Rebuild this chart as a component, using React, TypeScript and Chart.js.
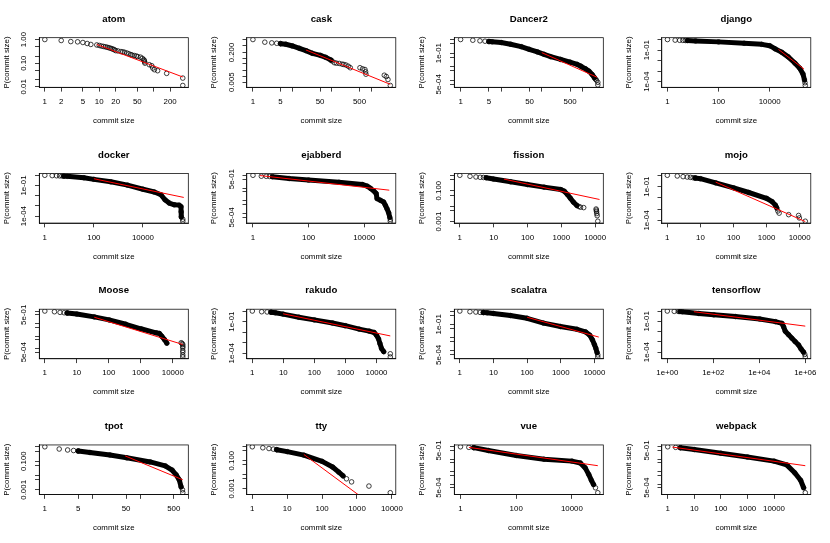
import React, { useEffect, useRef } from "react";
import { Chart, registerables } from "chart.js";
Chart.register(...registerables);

const W = 830;
const H = 543;
const COL_W = 207.5;
const ROW_H = 135.75;
const BOX_L = 39.3;
const BOX_R = 188.3;
const BOX_T = 37.7;
const BOX_B = 87.3;
const FONT = '"Liberation Sans", Arial, Helvetica, sans-serif';

// ---------- data (commit size, P(commit size)) ----------
const atomSize = [1,2,3,4,5,6,7,9,10,11,12,13,14,15,16,17,18,19,20,22,25,27,29,32,35,38,40,44,48,51,57,62,66,67,68,69,83,92,96,103,118,173,342,342];
const atomProb = [1.0,0.91,0.82,0.8,0.75,0.68,0.62,0.59,0.56,0.53,0.51,0.49,0.47,0.45,0.43,0.41,0.39,0.37,0.34,0.33,0.31,0.3,0.29,0.27,0.25,0.23,0.22,0.21,0.2,0.19,0.18,0.16,0.14,0.128,0.113,0.1,0.086,0.078,0.062,0.053,0.048,0.037,0.0234,0.0114];
const atomBandSize: number[] = [];
const atomBandProb: number[] = [];
const atomFitSize = [9, 342];
const atomFitProb = [0.62, 0.026];

const caskSize = [1,2,3,4,5,100,115,130,153,180,200,226,260,291,512,597,684,710,725,2113,2375,2617,3000];
const caskProb = [1,0.72,0.66,0.63,0.6,0.07,0.056,0.053,0.051,0.047,0.045,0.042,0.036,0.03,0.03,0.026,0.024,0.018,0.0134,0.0118,0.01,0.0069,0.0033];
const caskBandSize = [5,6.8,10,15,22,32,51,70,94];
const caskBandProb = [0.6,0.556,0.45,0.337,0.251,0.18,0.14,0.109,0.078];
const caskFitSize = [22, 3000];
const caskFitProb = [0.273, 0.0038];

const dancerSize = [1,2,3,4,5,2100,2223,2400,2400];
const dancerProb = [1,0.89,0.8,0.75,0.71,0.0012,0.001,0.0007,0.00045];
const dancerBandSize = [5,6,10,17,31,49,78,114,166,292,494,747,902,990,1196,1443,1740,1985];
const dancerBandProb = [0.71,0.68,0.6,0.45,0.3,0.19,0.121,0.081,0.054,0.034,0.0217,0.0146,0.011,0.0092,0.0069,0.0047,0.0026,0.0015];
const dancerFitSize = [100, 2300];
const dancerFitProb = [0.108, 0.00166];

const djangoSize = [1,2,3,4,5,240000,247000];
const djangoProb = [1,0.88,0.85,0.83,0.81,8e-5,4.4e-5];
const djangoBandSize = [6,12.6,100,1000,4900,10000,16000,29000,53000,96000,150000,200000,230000];
const djangoBandProb = [0.8,0.74,0.6,0.44,0.35,0.26,0.135,0.064,0.0226,0.0059,0.0019,0.00055,0.000145];
const djangoFitSize = [22000, 220000];
const djangoFitProb = [0.116, 0.00155];

const dockerSize = [1,2,3,4,5,6,420000,420000];
const dockerProb = [1,0.93,0.9,0.88,0.86,0.84,5e-5,3.2e-5];
const dockerBandSize = [6,8.2,39,100,490,2350,10000,29000,54000,79000,118000,190000,300000,355000,360000,365000];
const dockerBandProb = [0.84,0.79,0.58,0.4,0.23,0.108,0.043,0.023,0.0126,0.004,0.0019,0.0013,0.0012,0.00085,0.00027,0.000085];
const dockerFitSize = [100, 460000];
const dockerFitProb = [0.46, 0.0068];

const ejabSize = [1,2,3,4,87000,87000];
const ejabProb = [1,0.85,0.83,0.81,0.00035,0.00025];
const ejabBandSize = [5,20,100,1240,8500,12800,17000,22000,27000,29000,38000,50000,58000,66000,76000,83000];
const ejabBandProb = [0.78,0.56,0.42,0.28,0.19,0.14,0.093,0.06,0.037,0.0148,0.011,0.008,0.0044,0.0024,0.00114,0.00051];
const ejabFitSize = [1.8, 80000];
const ejabFitProb = [0.95, 0.068];

const fissionSize = [1,2,3,4,5,3300,3700,4600,10700,10900,11000,11200,11500,12000];
const fissionProb = [1,0.86,0.78,0.74,0.72,0.0095,0.0085,0.008,0.0065,0.0055,0.0044,0.0033,0.0024,0.00105];
const fissionBandSize = [6,10,32,100,310,970,1230,1540,1850,2300,2900];
const fissionBandProb = [0.7,0.57,0.38,0.25,0.17,0.118,0.092,0.055,0.033,0.018,0.011];
const fissionFitSize = [20, 13500];
const fissionFitProb = [0.57, 0.027];

const mojoSize = [1,2,3,4,5,6,7,2200,2400,4650,9300,9800,14800];
const mojoProb = [1,0.87,0.76,0.7,0.66,0.61,0.57,0.0007,0.00045,0.00033,0.00028,0.00017,0.000087];
const mojoBandSize = [7,10,29,102,290,990,1470,1850,2030];
const mojoBandProb = [0.57,0.5,0.215,0.076,0.03,0.0093,0.0047,0.0023,0.0013];
const mojoFitSize = [29, 14800];
const mojoFitProb = [0.25, 0.000081];

const mooseSize = [1,2,3,4,5,18300,19500,20500,20500,20500,20500,20500,20500,20500];
const mooseProb = [1,0.88,0.78,0.73,0.7,0.0029,0.0025,0.0021,0.0015,0.00114,0.0007,0.0005,0.0003,0.00021];
const mooseBandSize = [5,10,35,102,340,1000,3000,3800,4500,5500,6500];
const mooseBandProb = [0.7,0.57,0.34,0.195,0.087,0.038,0.018,0.016,0.0096,0.0051,0.0027];
const mooseFitSize = [35, 20500];
const mooseFitProb = [0.32, 0.0021];

const rakudoSize = [1,2,3,4,27700,27700];
const rakudoProb = [1,0.86,0.82,0.78,0.00009,0.000045];
const rakudoBandSize = [4,5.5,9.8,31.5,99,380,990,2770,5800,8400,10000,11600,12800,14500,17000];
const rakudoBandProb = [0.78,0.69,0.51,0.26,0.145,0.074,0.041,0.0195,0.0126,0.0093,0.0051,0.0023,0.00087,0.00028,0.000145];
const rakudoFitSize = [9.8, 27700];
const rakudoFitProb = [0.55, 0.0044];

const scalatraSize = [1,2,3,4,5,12600,12600];
const scalatraProb = [1,0.89,0.84,0.79,0.78,0.0005,0.00035];
const scalatraBandSize = [5,6.5,10,32,100,310,980,3050,5400,7300,8700,10000,11000,12000];
const scalatraBandProb = [0.77,0.74,0.66,0.46,0.285,0.123,0.068,0.042,0.0275,0.015,0.0069,0.003,0.0016,0.00076];
const scalatraFitSize = [100, 13500];
const scalatraFitProb = [0.34, 0.011];

const tfSize = [1,2,3,950000,1000000];
const tfProb = [1,0.93,0.92,0.00006,0.000034];
const tfBandSize = [3.5,4.5,23.6,105,920,10400,50000,97000,114000,135000,188000,260000,360000,510000,660000,840000];
const tfBandProb = [0.9,0.86,0.58,0.43,0.29,0.17,0.093,0.063,0.029,0.0108,0.005,0.0023,0.00108,0.0005,0.0002,0.0001];
const tfFitSize = [14.3, 1000000];
const tfFitProb = [0.86, 0.034];

const tpotSize = [1,2,3,4,5,760,770];
const tpotProb = [1,0.7,0.6,0.55,0.51,0.001,0.00063];
const tpotBandSize = [5,8.8,23,52,160,330,460,560,650,710];
const tpotBandProb = [0.51,0.4,0.27,0.17,0.088,0.047,0.024,0.011,0.005,0.0016];
const tpotFitSize = [48, 770];
const tpotFitProb = [0.23, 0.005];

const ttySize = [1,2,3,4,5,500,700,2200,9000];
const ttyProb = [1,0.85,0.75,0.68,0.62,0.005,0.003,0.0015,0.0005];
const ttyBandSize = [5,10,30,100,200,300,400];
const ttyBandProb = [0.62,0.45,0.25,0.09,0.035,0.015,0.008];
const ttyFitSize = [30, 1200];
const ttyFitProb = [0.28, 0.0003];

const vueSize = [1,2,3,70000,85000];
const vueProb = [1,0.9,0.85,0.0005,0.0002];
const vueBandSize = [3,10,100,1000,10000,20000,30000,40000,50000,60000];
const vueBandProb = [0.85,0.5,0.2,0.1,0.07,0.05,0.02,0.006,0.002,0.0009];
const vueFitSize = [2, 85000];
const vueFitProb = [0.9, 0.03];

const webpackSize = [1,2,3,150000];
const webpackProb = [1,0.9,0.85,0.0002];
const webpackBandSize = [3,10,100,1000,10000,30000,60000,100000,130000];
const webpackBandProb = [0.85,0.6,0.3,0.15,0.07,0.035,0.008,0.002,0.0005];
const webpackFitSize = [1.5, 150000];
const webpackFitProb = [0.95, 0.03];

// ---------- tick values and labels ----------
const ticks125 = [1,2,5,10,20,50,100,200];
const atomXLabels = ["1","2","5","10","20","50","","200"];
const ticks15 = [1,5,10,50,100,500,1000];
const ticks15Labels = ["1","5","","50","","500",""];
const ticksEven = [1,100,10000];
const ticksEvenLabels = ["1","100","10000"];
const ticksDec = [1,10,100,1000,10000];
const ticksDecLabels = ["1","10","100","1000","10000"];
const tfXTicks = [1,100,10000,1000000];
const tfXLabels = ["1e+00","1e+02","1e+04","1e+06"];

const atomYTicks = [0.01,0.02,0.05,0.1,0.2,0.5,1];
const atomYLabels = ["0.01","","","0.10","","","1.00"];
const caskYTicks = [0.005,0.01,0.02,0.05,0.1,0.2,0.5,1];
const caskYLabels = ["0.005","","","","","0.200","",""];
const sciYTicks15 = [5e-4,1e-3,5e-3,1e-2,5e-2,0.1,0.5,1];
const sciY1Labels = ["5e-04","","","","","1e-01","",""];
const sciY5Labels = ["5e-04","","","","","","5e-01",""];
const decYTicks = [1e-4,1e-3,1e-2,1e-1,1];
const decYLabels = ["1e-04","","","1e-01",""];
const fixYTicks = [0.001,0.005,0.01,0.05,0.1,0.5,1];
const fixYLabels = ["0.001","","","","0.100","",""];

type PanelDef = {
  title: string;
  size: number[]; prob: number[];
  bandSize: number[]; bandProb: number[];
  fitSize: number[]; fitProb: number[];
  xTicks: number[]; xLabels: string[];
  yTicks: number[]; yLabels: string[];
};

const panels: PanelDef[] = [
  { title: "atom", size: atomSize, prob: atomProb, bandSize: atomBandSize, bandProb: atomBandProb, fitSize: atomFitSize, fitProb: atomFitProb, xTicks: ticks125, xLabels: atomXLabels, yTicks: atomYTicks, yLabels: atomYLabels },
  { title: "cask", size: caskSize, prob: caskProb, bandSize: caskBandSize, bandProb: caskBandProb, fitSize: caskFitSize, fitProb: caskFitProb, xTicks: ticks15, xLabels: ticks15Labels, yTicks: caskYTicks, yLabels: caskYLabels },
  { title: "Dancer2", size: dancerSize, prob: dancerProb, bandSize: dancerBandSize, bandProb: dancerBandProb, fitSize: dancerFitSize, fitProb: dancerFitProb, xTicks: ticks15, xLabels: ticks15Labels, yTicks: sciYTicks15, yLabels: sciY1Labels },
  { title: "django", size: djangoSize, prob: djangoProb, bandSize: djangoBandSize, bandProb: djangoBandProb, fitSize: djangoFitSize, fitProb: djangoFitProb, xTicks: ticksEven, xLabels: ticksEvenLabels, yTicks: decYTicks, yLabels: decYLabels },
  { title: "docker", size: dockerSize, prob: dockerProb, bandSize: dockerBandSize, bandProb: dockerBandProb, fitSize: dockerFitSize, fitProb: dockerFitProb, xTicks: ticksEven, xLabels: ticksEvenLabels, yTicks: decYTicks, yLabels: decYLabels },
  { title: "ejabberd", size: ejabSize, prob: ejabProb, bandSize: ejabBandSize, bandProb: ejabBandProb, fitSize: ejabFitSize, fitProb: ejabFitProb, xTicks: ticksEven, xLabels: ticksEvenLabels, yTicks: sciYTicks15, yLabels: sciY5Labels },
  { title: "fission", size: fissionSize, prob: fissionProb, bandSize: fissionBandSize, bandProb: fissionBandProb, fitSize: fissionFitSize, fitProb: fissionFitProb, xTicks: ticksDec, xLabels: ticksDecLabels, yTicks: fixYTicks, yLabels: fixYLabels },
  { title: "mojo", size: mojoSize, prob: mojoProb, bandSize: mojoBandSize, bandProb: mojoBandProb, fitSize: mojoFitSize, fitProb: mojoFitProb, xTicks: ticksDec, xLabels: ticksDecLabels, yTicks: decYTicks, yLabels: decYLabels },
  { title: "Moose", size: mooseSize, prob: mooseProb, bandSize: mooseBandSize, bandProb: mooseBandProb, fitSize: mooseFitSize, fitProb: mooseFitProb, xTicks: ticksDec, xLabels: ticksDecLabels, yTicks: sciYTicks15, yLabels: sciY5Labels },
  { title: "rakudo", size: rakudoSize, prob: rakudoProb, bandSize: rakudoBandSize, bandProb: rakudoBandProb, fitSize: rakudoFitSize, fitProb: rakudoFitProb, xTicks: ticksDec, xLabels: ticksDecLabels, yTicks: decYTicks, yLabels: decYLabels },
  { title: "scalatra", size: scalatraSize, prob: scalatraProb, bandSize: scalatraBandSize, bandProb: scalatraBandProb, fitSize: scalatraFitSize, fitProb: scalatraFitProb, xTicks: ticksDec, xLabels: ticksDecLabels, yTicks: sciYTicks15, yLabels: sciY1Labels },
  { title: "tensorflow", size: tfSize, prob: tfProb, bandSize: tfBandSize, bandProb: tfBandProb, fitSize: tfFitSize, fitProb: tfFitProb, xTicks: tfXTicks, xLabels: tfXLabels, yTicks: decYTicks, yLabels: decYLabels },
  { title: "tpot", size: tpotSize, prob: tpotProb, bandSize: tpotBandSize, bandProb: tpotBandProb, fitSize: tpotFitSize, fitProb: tpotFitProb, xTicks: ticks15, xLabels: ticks15Labels, yTicks: fixYTicks, yLabels: fixYLabels },
  { title: "tty", size: ttySize, prob: ttyProb, bandSize: ttyBandSize, bandProb: ttyBandProb, fitSize: ttyFitSize, fitProb: ttyFitProb, xTicks: ticksDec, xLabels: ticksDecLabels, yTicks: fixYTicks, yLabels: fixYLabels },
  { title: "vue", size: vueSize, prob: vueProb, bandSize: vueBandSize, bandProb: vueBandProb, fitSize: vueFitSize, fitProb: vueFitProb, xTicks: ticksEven, xLabels: ticksEvenLabels, yTicks: sciYTicks15, yLabels: sciY5Labels },
  { title: "webpack", size: webpackSize, prob: webpackProb, bandSize: webpackBandSize, bandProb: webpackBandProb, fitSize: webpackFitSize, fitProb: webpackFitProb, xTicks: ticksDec, xLabels: ticksDecLabels, yTicks: sciYTicks15, yLabels: sciY5Labels },
];

function zip(xs: number[], ys: number[]) {
  return xs.map((x, i) => ({ x, y: ys[i] }));
}

function logRange(vals: number[]): [number, number] {
  const lo = Math.log10(Math.min(...vals));
  const hi = Math.log10(Math.max(...vals));
  const ext = (hi - lo) * 0.04;
  return [Math.pow(10, lo - ext), Math.pow(10, hi + ext)];
}

function PanelChart({ def, index }: { def: PanelDef; index: number }) {
  const ref = useRef<HTMLCanvasElement | null>(null);
  useEffect(() => {
    const canvas = ref.current;
    if (!canvas) return;
    const col = index % 4;
    const row = Math.floor(index / 4);
    const ox = col * COL_W;
    const oy = row * ROW_H;
    const boxL = ox + BOX_L;
    const boxR = ox + BOX_R;
    const boxT = oy + BOX_T;
    const boxB = oy + BOX_B;
    const [xmin, xmax] = logRange(def.size.concat(def.bandSize));
    const [ymin, ymax] = logRange(def.prob.concat(def.bandProb));
    const AX = 5;

    const textPlugin = {
      id: "rtext" + index,
      afterDraw(chart: any) {
        const ctx = chart.ctx as CanvasRenderingContext2D;
        const xs = chart.scales.x;
        const ys = chart.scales.y;
        const ca = chart.chartArea;
        ctx.save();
        ctx.strokeStyle = "#000";
        ctx.lineWidth = 0.75;
        ctx.strokeRect(ca.left, ca.top, ca.right - ca.left, ca.bottom - ca.top);
        ctx.fillStyle = "#000";
        ctx.textAlign = "center";
        ctx.textBaseline = "middle";
        const cx = (ca.left + ca.right) / 2;
        const cy = (ca.top + ca.bottom) / 2;
        ctx.font = `bold 9.6px ${FONT}`;
        ctx.fillText(def.title, cx, oy + 19.3);
        ctx.font = `7.9px ${FONT}`;
        def.xTicks.forEach((v, i) => {
          const lab = def.xLabels[i];
          if (lab) ctx.fillText(lab, xs.getPixelForValue(v), oy + 101.8);
        });
        ctx.fillText("commit size", cx, oy + 120.8);
        def.yTicks.forEach((v, i) => {
          const lab = def.yLabels[i];
          if (!lab) return;
          ctx.save();
          ctx.translate(ox + 24.3, ys.getPixelForValue(v));
          ctx.rotate(-Math.PI / 2);
          ctx.fillText(lab, 0, 0);
          ctx.restore();
        });
        ctx.save();
        ctx.translate(ox + 6.5, cy);
        ctx.rotate(-Math.PI / 2);
        ctx.fillText("P(commit size)", 0, 0);
        ctx.restore();
        ctx.restore();
      },
    };

    const axisCommon = {
      type: "logarithmic" as const,
      ticks: { display: false },
      grid: { display: true, drawOnChartArea: false, drawTicks: true, tickLength: 4.3, color: "#000", lineWidth: 0.75 },
      border: { display: true, color: "#000", width: 0.75 },
    };

    const chart = new Chart(canvas, {
      type: "scatter",
      data: {
        datasets: [
          {
            type: "line",
            data: zip(def.fitSize, def.fitProb),
            borderColor: "#ff0000",
            borderWidth: 1,
            pointRadius: 0,
            order: 0,
          } as any,
          {
            type: "line",
            data: zip(def.bandSize, def.bandProb),
            borderColor: "#000",
            borderWidth: 5,
            borderCapStyle: "round",
            borderJoinStyle: "round",
            pointRadius: 2.3,
            pointBorderWidth: 0.75,
            pointBorderColor: "#000",
            pointBackgroundColor: "rgba(0,0,0,0)",
            order: 1,
          } as any,
          {
            type: "scatter",
            data: zip(def.size, def.prob),
            pointRadius: 2.3,
            pointBorderWidth: 0.75,
            borderColor: "#000",
            backgroundColor: "rgba(0,0,0,0)",
            order: 2,
          } as any,
        ],
      },
      options: {
        responsive: false,
        animation: false,
        events: [],
        layout: {
          autoPadding: false,
          padding: { left: boxL - AX, top: boxT, right: W - boxR, bottom: H - boxB - AX },
        },
        plugins: { legend: { display: false }, tooltip: { enabled: false }, title: { display: false } },
        scales: {
          x: {
            ...axisCommon,
            position: "bottom",
            min: xmin,
            max: xmax,
            afterBuildTicks: (s: any) => { s.ticks = def.xTicks.map((v) => ({ value: v })); },
            afterFit: (s: any) => { s.height = AX; },
          },
          y: {
            ...axisCommon,
            position: "left",
            min: ymin,
            max: ymax,
            afterBuildTicks: (s: any) => { s.ticks = def.yTicks.map((v) => ({ value: v })); },
            afterFit: (s: any) => { s.width = AX; },
          },
        } as any,
      },
      plugins: [textPlugin],
    } as any);
    return () => chart.destroy();
  }, [def, index]);
  return (
    <canvas
      ref={ref}
      width={W}
      height={H}
      style={{ position: "absolute", left: 0, top: 0, width: W, height: H }}
    />
  );
}

export default function App() {
  return (
    <div style={{ position: "absolute", left: 0, top: 0, width: W, height: H, background: "#fff", overflow: "hidden" }}>
      {panels.map((p, i) => (
        <PanelChart key={p.title} def={p} index={i} />
      ))}
    </div>
  );
}
